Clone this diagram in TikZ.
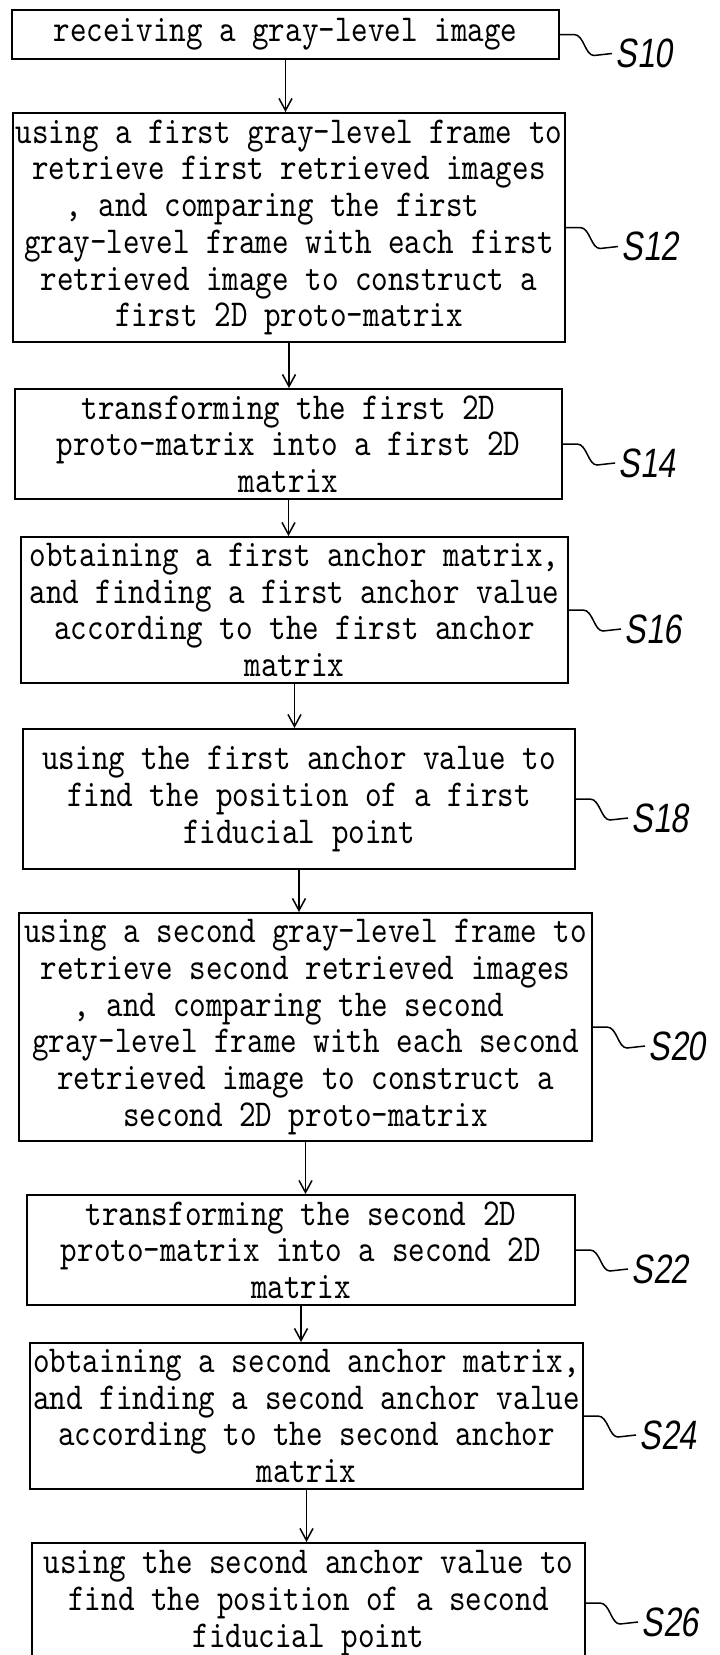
\documentclass[tikz,border=0pt]{standalone}
\usepackage{fontspec}
\usetikzlibrary{arrows.meta,positioning}
\newfontfamily\boxfont[FakeStretch=0.83]{lmmono10-regular.otf}
\newfontfamily\tagfont[FakeStretch=0.78,FakeSlant=0.15]{Liberation Sans}

\begin{document}
\begin{tikzpicture}[x=1pt, y=1pt, >={Straight Barb[length=12pt,width=13pt]},
	stepbox/.style={draw, line width=2pt, align=center, inner sep=0pt,
		font=\boxfont\fontsize{38}{36.7}\selectfont},
	steptag/.style={font=\tagfont\fontsize{41}{41}\selectfont, inner sep=0pt},
	squiggle/.style={line width=1.5pt}]

	\useasboundingbox (0,0) rectangle (720,-1655);
	\clip (0,0) rectangle (720,-1655);

	% Nodes {s10, s12, s14, ..., s26}
	\node [stepbox, minimum width=547pt, minimum height=49pt]	(s10) at (285.5,-34.5)
	{receiving a gray-level image};
	\node [stepbox, minimum width=552pt, minimum height=229pt]	(s12) [below=52pt of s10, xshift=3.5pt]
	{using a first gray-level frame to \\ retrieve first retrieved images \\
	 , and comparing the first\phantom{xx} \\ gray-level frame with each first \\
	 retrieved image to construct a \\ first 2D proto-matrix};
	\node [stepbox, minimum width=547pt, minimum height=110pt]	(s14) [below=45pt of s12, xshift=-0.5pt]
	{transforming the first 2D \\ proto-matrix into a first 2D \\ matrix};
	\node [stepbox, minimum width=547pt, minimum height=146pt]	(s16) [below=36pt of s14, xshift=6pt]
	{obtaining a first anchor matrix, \\ and finding a first anchor value \\
	 according to the first anchor \\ matrix};
	\node [stepbox, minimum width=552pt, minimum height=140pt]	(s18) [below=44pt of s16, xshift=4.5pt]
	{using the first anchor value to \\ find the position of a first \\ fiducial point};
	\node [stepbox, minimum width=573pt, minimum height=228pt]	(s20) [below=42pt of s18, xshift=6.5pt]
	{using a second gray-level frame to \\ retrieve second retrieved images \\
	 , and comparing the second\phantom{xx} \\ gray-level frame with each second \\
	 retrieved image to construct a \\ second 2D proto-matrix};
	\node [stepbox, minimum width=548pt, minimum height=110pt]	(s22) [below=52pt of s20, xshift=-4.5pt]
	{transforming the second 2D \\ proto-matrix into a second 2D \\ matrix};
	\node [stepbox, minimum width=553pt, minimum height=146pt]	(s24) [below=36pt of s22, xshift=5.5pt]
	{obtaining a second anchor matrix, \\ and finding a second anchor value \\
	 according to the second anchor \\ matrix};
	\node [stepbox, minimum width=553pt, minimum height=120pt]	(s26) [below=52pt of s24, xshift=2pt]
	{using the second anchor value to \\ find the position of a second \\ fiducial point};

	% Arrows down the chain
	\path [->, line width=1.5pt] (s10.south) edge (s10.south |- s12.north);
	\path [->, line width=1.5pt] (s12.south) edge (s12.south |- s14.north);
	\path [->, line width=1.5pt] (s14.south) edge (s14.south |- s16.north);
	\path [->, line width=1.5pt] (s16.south) edge (s16.south |- s18.north);
	\path [->, line width=1.5pt] (s18.south) edge (s18.south |- s20.north);
	\path [->, line width=1.5pt] (s20.south) edge (s20.south |- s22.north);
	\path [->, line width=1.5pt] (s22.south) edge (s22.south |- s24.north);
	\path [->, line width=1.5pt] (s24.south) edge (s24.south |- s26.north);

	% Step tags on the right
	\draw [squiggle] (s10.east) -- ++(14,0) .. controls +(10,0) and +(-9,0) .. ++(20,-21) -- ++(18,2)
	node [steptag, right=3pt] (t10) {S10};
	\draw [squiggle] (s12.east) -- ++(14,0) .. controls +(10,0) and +(-9,0) .. ++(20,-21) -- ++(18,2)
	node [steptag, right=3pt] (t12) {S12};
	\draw [squiggle] (s14.east) -- ++(14,0) .. controls +(10,0) and +(-9,0) .. ++(20,-21) -- ++(18,2)
	node [steptag, right=3pt] (t14) {S14};
	\draw [squiggle] (s16.east) -- ++(14,0) .. controls +(10,0) and +(-9,0) .. ++(20,-21) -- ++(18,2)
	node [steptag, right=3pt] (t16) {S16};
	\draw [squiggle] (s18.east) -- ++(14,0) .. controls +(10,0) and +(-9,0) .. ++(20,-21) -- ++(18,2)
	node [steptag, right=3pt] (t18) {S18};
	\draw [squiggle] (s20.east) -- ++(14,0) .. controls +(10,0) and +(-9,0) .. ++(20,-21) -- ++(18,2)
	node [steptag, right=3pt] (t20) {S20};
	\draw [squiggle] (s22.east) -- ++(14,0) .. controls +(10,0) and +(-9,0) .. ++(20,-21) -- ++(18,2)
	node [steptag, right=3pt] (t22) {S22};
	\draw [squiggle] (s24.east) -- ++(14,0) .. controls +(10,0) and +(-9,0) .. ++(20,-21) -- ++(18,2)
	node [steptag, right=3pt] (t24) {S24};
	\draw [squiggle] (s26.east) -- ++(14,0) .. controls +(10,0) and +(-9,0) .. ++(20,-21) -- ++(18,2)
	node [steptag, right=3pt] (t26) {S26};

\end{tikzpicture}
\end{document}
